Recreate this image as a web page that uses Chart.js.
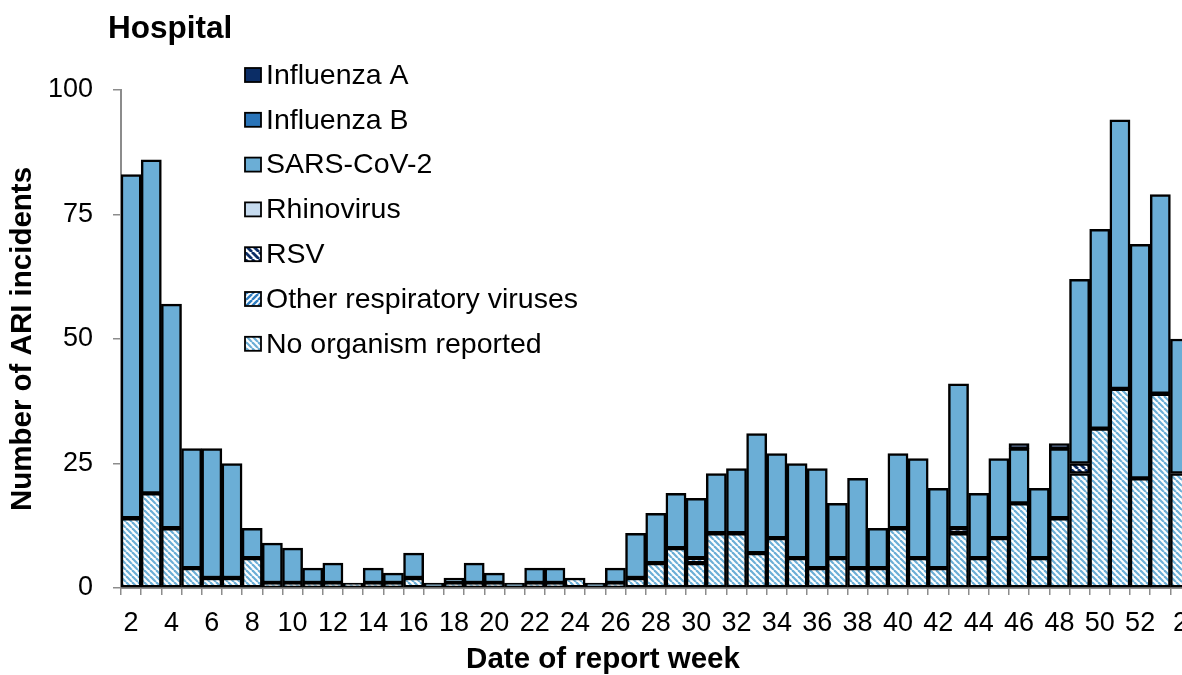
<!DOCTYPE html>
<html>
<head>
    <title>Hospital ARI</title>
    <script src="https://cdn.jsdelivr.net/npm/chart.js@4.4.0/dist/chart.umd.min.js"></script>
    <style>
        html, body { margin: 0; padding: 0; overflow: hidden; background: #fff; }
        #wrap { width: 1200px; height: 675px; position: relative; }
    </style>
</head>
<body>
<div id="wrap"><canvas id="barChart"></canvas></div>
<script>
    // semanas de reporte (la ultima se corta en el borde)
    var weeks = ['2','3','4','5','6','7','8','9','10','11','12','13','14','15','16','17','18','19','20','21',
                 '22','23','24','25','26','27','28','29','30','31','32','33','34','35','36','37','38','39','40','41',
                 '42','43','44','45','46','47','48','49','50','51','52','1','2'];

    var noOrganism = [14,19,12,4,2,2,6,1,1,1,1,1,1,1,2,0,1,1,1,0,
                      1,1,2,0,1,2,5,8,5,11,11,7,10,6,4,6,4,4,12,6,
                      4,11,6,10,17,6,14,23,32,40,22,39,23];
    var otherResp  = [0,0,0,0,0,0,0,0,0,0,0,0,0,0,0,0,0,0,0,0,
                      0,0,0,0,0,0,0,0,1,0,0,0,0,0,0,0,0,0,0,0,
                      0,0,0,0,0,0,0,0,0,0,0,0,0];
    var rsv        = [0,0,0,0,0,0,0,0,0,0,0,0,0,0,0,0,0,0,0,0,
                      0,0,0,0,0,0,0,0,0,0,0,0,0,0,0,0,0,0,0,0,
                      0,1,0,0,0,0,0,2,0,0,0,0,0];
    var rhino      = [0,0,0,0,0,0,0,0,0,0,0,0,0,0,0,0,0,0,0,0,
                      0,0,0,0,0,0,0,0,0,0,0,0,0,0,0,0,0,0,0,0,
                      0,0,0,0,0,0,0,0,0,0,0,0,0];
    var sars       = [69,67,45,24,26,23,6,8,7,3,4,0,3,2,5,1,1,4,2,1,
                      3,3,0,1,3,9,10,11,12,12,13,24,17,19,20,11,18,8,15,20,
                      16,29,13,16,11,14,14,37,40,54,47,40,27];
    var fluB       = [0,0,0,0,0,0,0,0,0,0,0,0,0,0,0,0,0,0,0,0,
                      0,0,0,0,0,0,0,0,0,0,0,0,0,0,0,0,0,0,0,0,
                      0,0,0,0,0,0,0,0,0,0,0,0,0];
    var fluA       = [0,0,0,0,0,0,0,0,0,0,0,0,0,0,0,0,0,0,0,0,
                      0,0,0,0,0,0,0,0,0,0,0,0,0,0,0,0,0,0,0,0,
                      0,0,0,0,1,0,1,0,0,0,0,0,0];

    var fuente = '"Liberation Sans", Arial, sans-serif';
    Chart.defaults.font.family = fuente;
    Chart.defaults.color = '#000';

    var ctx = document.getElementById('barChart').getContext('2d');

    // relleno rayado
    function rayas(color, dir, p, lw) {
        var c = document.createElement('canvas');
        c.width = p; c.height = p;
        var g = c.getContext('2d');
        g.fillStyle = '#fff';
        g.fillRect(0, 0, p, p);
        g.strokeStyle = color;
        g.lineWidth = lw;
        for (var k = -1; k <= 1; k++) {
            g.beginPath();
            if (dir == 'b') { g.moveTo(k * p, 0); g.lineTo(k * p + p, p); }
            else { g.moveTo(k * p, p); g.lineTo(k * p + p, 0); }
            g.stroke();
        }
        return ctx.createPattern(c, 'repeat');
    }

    function serie(nombre, valores, relleno) {
        return {
            label: nombre,
            data: valores.map(function (v) { return v === 0 ? null : v; }),
            backgroundColor: relleno,
            borderColor: '#000',
            borderWidth: 2.5,
            borderSkipped: false,
            barPercentage: 1,
            categoryPercentage: 1
        };
    }

    var datasets = [
        serie('No organism reported', noOrganism, rayas('#6baed6', 'b', 6, 2.2)),
        serie('Other respiratory viruses', otherResp, rayas('#2f7dc0', 'f', 6, 2.4)),
        serie('RSV', rsv, rayas('#0b2d66', 'b', 7, 2.8)),
        serie('Rhinovirus', rhino, '#c6dbef'),
        serie('SARS-CoV-2', sars, '#6baed6'),
        serie('Influenza B', fluB, '#2a74b8'),
        serie('Influenza A', fluA, '#0b2d66')
    ];

    var textosPlugin = {
        id: 'textos',
        afterDraw: function (chart) {
            var c = chart.ctx;
            c.save();
            c.fillStyle = '#000';
            c.font = 'bold 31.5px ' + fuente;
            c.textAlign = 'left';
            c.textBaseline = 'alphabetic';
            c.fillText('Hospital', 108, 38);
            c.font = 'bold 29.5px ' + fuente;
            c.textAlign = 'center';
            c.textBaseline = 'middle';
            c.fillText('Date of report week', 603, 660);

            // leyenda
            var orden = datasets.slice().reverse();
            c.font = '28.5px ' + fuente;
            c.textAlign = 'left';
            for (var i = 0; i < orden.length; i++) {
                var yc = 75 + i * 44.8;
                c.fillStyle = orden[i].backgroundColor;
                c.fillRect(245, yc - 7, 16, 14);
                c.strokeStyle = '#000';
                c.lineWidth = 1.8;
                c.strokeRect(245, yc - 7, 16, 14);
                c.fillStyle = '#000';
                c.fillText(orden[i].label, 266, yc + 1);
            }
            c.restore();
        }
    };

    var grafica = new Chart(ctx, {
        type: 'bar',
        data: { labels: weeks, datasets: datasets },
        options: {
            responsive: true,
            maintainAspectRatio: false,
            animation: false,
            layout: { padding: { top: 90, left: 0, right: 0, bottom: 0 } },
            plugins: { legend: { display: false }, tooltip: { enabled: false } },
            scales: {
                x: {
                    stacked: true,
                    grid: { drawOnChartArea: false, drawTicks: true, tickLength: 7, color: '#8c8c8c', lineWidth: 1.5, offset: true },
                    border: { color: '#8c8c8c', width: 2 },
                    ticks: {
                        autoSkip: false, maxRotation: 0, minRotation: 0, padding: 12,
                        font: { size: 27 }, color: '#000',
                        callback: function (v, i) { return i % 2 == 0 ? this.getLabelForValue(v) : ''; }
                    },
                    afterFit: function (s) { s.height = 87; }
                },
                y: {
                    stacked: true, min: 0, max: 100,
                    ticks: { stepSize: 25, padding: 20, font: { size: 27 }, color: '#000' },
                    grid: { drawOnChartArea: false, tickLength: 8, color: '#8c8c8c', lineWidth: 1.5 },
                    border: { color: '#8c8c8c', width: 2 },
                    title: { display: true, text: 'Number of ARI incidents', font: { size: 29.5, weight: 'bold' }, padding: { top: 5, bottom: 0 } },
                    afterFit: function (s) { s.width = 121; }
                }
            }
        },
        plugins: [textosPlugin]
    });
</script>
</body>
</html>
